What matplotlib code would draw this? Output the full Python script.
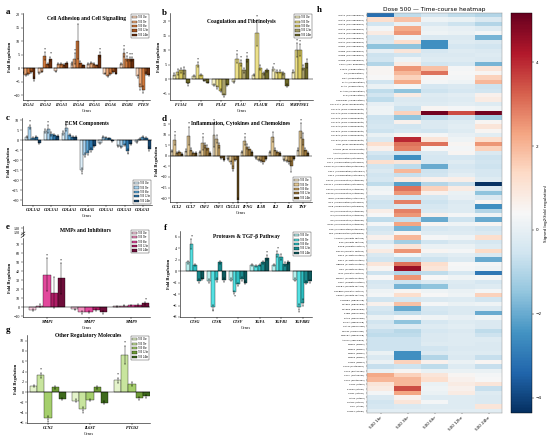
import numpy as np
import matplotlib
matplotlib.use('Agg')
import matplotlib.pyplot as plt

W, H = 550, 441
SERIF = 'Liberation Serif'

series = ['500 1hr', '500 3hr', '500 6hr', '500 12hr', '500 24hr']

# --- a: cell adhesion ---
a_genes = ['ITGA1', 'ITGA2', 'ITGA3', 'ITGA4', 'ITGA5', 'ITGA6', 'ITGB1', 'PTEN']
a_vals = [[-1.8, -2.5, -2.2, -1.5, -4.0], [-1.8, -1.3, 4.5, 1.5, 3.5],
          [-1.2, 1.5, 1.5, 1.2, 2.0], [1.8, 3.5, 10.0, 2.0, 1.0],
          [1.5, 1.8, 1.5, 1.0, 5.0], [-2.0, -2.8, -2.2, -1.5, -2.0],
          [1.5, 5.5, 3.5, 3.3, 3.3], [-3.0, -7.0, -8.0, -2.0, -2.5]]
a_err = [[0.3, 0.4, 0.4, 0.3, 0.6], [0.3, 0.3, 1.5, 0.4, 0.8],
         [0.3, 0.4, 0.3, 0.3, 0.4], [0.5, 2.0, 6.5, 0.5, 0.3],
         [0.3, 0.4, 0.3, 0.3, 1.0], [0.3, 0.4, 0.4, 0.3, 0.3],
         [0.3, 1.5, 1.0, 0.8, 0.8], [0.5, 1.0, 1.2, 0.6, 0.5]]
a_stars = [(1, 2), (1, 4), (3, 1), (3, 2), (4, 4), (6, 1), (6, 2), (6, 3), (6, 4)]

# --- b: coagulation ---
b_genes = ['F13A1', 'F8', 'PLAT', 'PLAU', 'PLAUR', 'PLG', 'SERPINE1']
b_vals = [[1.5, 2.5, 3.0, 3.0, -1.5], [1.0, 5.0, 1.5, -0.5, -1.2],
          [-2.0, -2.8, -4.0, -5.5, -2.0], [-1.0, 7.0, 5.5, 3.0, 7.0],
          [1.5, 16.0, 4.0, 2.0, 3.0], [3.5, 2.5, 2.5, 2.0, -2.2],
          [2.5, 10.0, 10.0, 4.0, 5.5]]
b_err = [[0.5, 1.0, 1.0, 1.2, 0.3], [0.3, 0.8, 0.4, 0.3, 0.3],
         [0.4, 0.5, 0.5, 0.5, 0.4], [0.3, 1.5, 1.0, 0.8, 1.0],
         [0.4, 4.5, 1.0, 0.5, 0.6], [0.6, 0.5, 0.5, 0.5, 0.5],
         [0.5, 2.5, 2.0, 1.0, 1.5]]
b_stars = [(0, 4), (1, 1), (3, 1), (3, 2), (3, 4), (4, 1), (5, 0), (6, 1), (6, 2)]

# --- c: ECM ---
c_genes = ['COL1A2', 'COL3A1', 'COL4A1', 'COL4A5', 'COL5A1', 'COL5A3', 'COL6A3']
c_vals = [[1.5, 6.5, 1.0, 1.5, -1.5], [4.5, 5.5, 3.0, 2.5, 2.0],
          [3.5, 6.0, 2.5, 1.5, 1.5], [-15.0, -7.5, -6.5, -5.0, -3.0],
          [-1.5, 1.5, 1.2, 0.8, -0.5], [-3.0, -3.5, -2.5, -5.5, -2.0],
          [-1.0, 0.5, 1.5, 1.0, -4.5]]
c_err = [[0.4, 1.2, 0.3, 0.4, 0.3], [1.0, 2.0, 0.8, 0.6, 0.5],
         [0.8, 1.5, 0.6, 0.4, 0.4], [1.2, 1.0, 0.8, 0.8, 0.6],
         [0.3, 0.4, 0.3, 0.3, 0.3], [0.5, 0.6, 0.5, 0.8, 0.4],
         [0.3, 0.3, 0.4, 0.3, 0.8]]
c_stars = [(0, 1), (1, 1), (2, 1), (3, 0), (5, 3)]

# --- d: inflammation ---
d_genes = ['CCL2', 'CCL7', 'CSF2', 'CSF3', 'CXCL11', 'IFNG', 'IL1B', 'IL2', 'IL6', 'TNF']
d_vals = [[2.5, 7.5, 1.5, 2.0, 1.0], [2.5, 9.5, 3.0, 1.5, 1.5],
          [2.0, 6.0, 5.0, 4.0, 1.5], [10.0, 8.0, 5.0, -1.0, -2.0],
          [-1.5, -3.0, -6.0, -2.0, -21.0], [2.0, 7.0, 4.5, 3.5, 2.0],
          [-1.0, -2.0, -2.5, -3.0, -1.5], [2.0, 9.0, 3.0, 2.0, 1.5],
          [-2.0, -2.5, -3.0, -5.0, -1.5], [3.0, 12.0, 8.0, 3.0, 1.5]]
d_err = [[0.5, 2.5, 0.4, 0.5, 0.3], [0.6, 4.5, 0.8, 0.4, 0.4],
         [0.5, 3.0, 1.0, 1.0, 0.4], [5.5, 2.0, 1.0, 0.3, 0.5],
         [0.4, 0.6, 1.0, 0.5, 0.8], [0.5, 2.0, 1.0, 0.8, 0.5],
         [0.3, 0.5, 0.5, 0.6, 0.4], [0.5, 2.5, 0.8, 0.5, 0.4],
         [0.4, 0.5, 0.6, 2.5, 0.4], [0.8, 3.5, 3.0, 0.8, 0.4]]
d_stars = [(0, 1), (1, 1), (2, 1), (3, 0), (4, 4), (5, 1), (9, 1)]

# --- e: MMPs ---
e_genes = ['MMP1', 'MMP7', 'MMP9']
e_vals = [[-3.0, 1.5, 36.0, 16.0, 32.0], [-2.5, -6.0, -5.0, -3.0, -6.0],
          [1.0, 1.5, 2.0, 2.5, 4.0]]
e_err = [[1.0, 1.5, 18.0, 17.0, 17.0], [0.8, 1.5, 1.2, 0.8, 1.5],
         [0.5, 0.6, 0.6, 0.8, 1.5]]
e_stars = [(0, 2), (0, 4), (2, 4)]

# --- f: proteases & TGF-beta ---
f_genes = ['CTSG', 'CTSK', 'CTSV', 'TGFA', 'TGFB1', 'TGFBR1']
f_vals = [[1.5, 4.7, 1.0, -1.7, -1.4], [-1.7, -6.3, -1.6, 1.5, -1.6],
          [-1.5, -3.7, -2.3, -1.4, -2.0], [1.0, 0.9, 1.1, 1.5, 2.3],
          [1.0, 3.0, 2.5, 1.2, 1.5], [-1.5, -6.3, -5.5, -2.0, -1.8]]
f_err = [[0.3, 0.8, 0.2, 0.3, 0.2], [0.3, 0.4, 0.3, 0.3, 0.3],
         [0.3, 0.3, 0.3, 0.3, 0.3], [0.2, 0.2, 0.2, 0.3, 0.4],
         [0.2, 0.5, 0.5, 0.3, 0.3], [0.3, 0.5, 0.6, 0.3, 0.3]]
f_stars = [(0, 1), (1, 1), (2, 1), (3, 4), (4, 1), (5, 1)]

# --- g: other ---
g_genes = ['CCN2', 'IL6ST', 'PTGS2']
g_vals = [[1.2, 3.3, -5.0, 0.9, -1.3], [-1.7, -3.2, -1.6, 0.9, -2.1],
          [2.3, 7.2, 1.5, -1.2, -0.8]]
g_err = [[0.2, 0.5, 0.4, 0.3, 0.2], [0.3, 0.4, 0.2, 0.3, 0.3],
         [0.5, 1.8, 0.4, 0.3, 0.3]]
g_stars = [(0, 1), (0, 2), (1, 1), (2, 0), (2, 1)]

# --- h: heatmap ---
hm_cols = ['500 1hr', '500 3hr', '500 6hr', '500 12hr', '500 24hr']
hm_genes = (
    [g + ' (Cell adhesion)' for g in ['ITGA1', 'ITGA2', 'ITGA3', 'ITGA4', 'ITGA5', 'ITGA6',
                                      'ITGAV', 'ITGB1', 'ITGB3', 'ITGB5', 'ITGB6', 'CDH1']]
    + [g + ' (Coagulation)' for g in ['F13A1', 'F3', 'FGA', 'PLAT', 'PLAU', 'PLAUR', 'PLG',
                                      'SERPINE1']]
    + [g + ' (ECM components)' for g in ['COL14A1', 'COL1A1', 'COL1A2', 'COL3A1', 'COL4A1',
                                         'COL4A3', 'COL5A1', 'COL5A2', 'COL5A3', 'VTN',
                                         'TAGLN', 'ACTA2']]
    + [g + ' (Inflammation/cytokines)' for g in ['CCL2', 'CCL7', 'CD40LG', 'CSF2', 'CSF3',
                                                 'CXCL1', 'CXCL11', 'CXCL2', 'CXCL5', 'IFNG',
                                                 'IL10', 'IL1B', 'IL2', 'IL4', 'IL6', 'IL6ST',
                                                 'TNF', 'MIF']]
    + [g + ' (Growth factors)' for g in ['ANGPT1', 'EGF', 'EGFR', 'FGF10', 'FGF2', 'FGF7',
                                         'HBEGF', 'HGF', 'IGF1', 'PDGFA', 'TGFA', 'TGFB1',
                                         'TGFBR3', 'VEGFA']]
    + [g + ' (Signalling)' for g in ['CTNNB1', 'MAPK1', 'MAPK3', 'PTEN', 'RAC1', 'RHOA',
                                     'STAT3', 'WISP1', 'WNT5A', 'ACTC1']]
    + [g + ' (MMPs)' for g in ['MMP1', 'MMP2', 'MMP7', 'MMP9', 'TIMP1']]
    + [g + ' (Proteases)' for g in ['CTSG', 'CTSK', 'CTSL', 'CTSV']]
    + [g + ' (Other)' for g in ['CTGF', 'PTGS2', 'CCN1', 'HAS2', 'SPARC', 'TNC', 'THBS1']]
)
hm_vals = [
    [-3.2, -0.8, -0.5, -0.8, -1.0], [1.2, 1.8, 0.2, 0.1, -0.3], [-0.5, 0.1, -0.3, -0.6, -1.0],
    [0.3, 2.2, 0.1, 0.0, -0.2], [0.8, 2.5, 0.2, 0.1, 0.3], [-0.4, 0.2, -0.3, -0.3, -1.8],
    [-0.3, 1.2, -2.5, -0.2, -0.3], [-1.5, -1.5, -2.5, -0.4, -0.5], [0.0, 1.0, -0.4, -0.2, -0.3],
    [-0.6, -0.5, -0.3, -0.3, -0.2], [-0.5, 0.2, -0.2, -0.2, -0.3], [-1.0, 0.8, -0.5, -0.4, -1.8],
    [0.5, 2.5, 1.8, 0.3, 1.0], [0.5, 2.0, 3.0, 0.4, 0.5], [0.4, 1.5, 0.5, 0.3, 1.5],
    [-0.5, 2.2, 0.3, 0.2, 2.0], [0.1, 0.3, -0.4, -0.3, -0.6], [-0.8, -1.5, -0.6, -0.4, -0.5],
    [-0.5, 0.8, -0.2, -0.1, 0.6], [-0.8, -0.3, -0.3, -0.2, 0.8], [0.0, -0.2, -0.2, -0.1, -0.2],
    [0.2, -0.6, 0.5, 0.3, 0.2], [0.2, 1.5, 5.0, 3.5, 5.0], [-0.6, -1.5, -0.8, -0.5, -1.2],
    [-0.5, 0.6, -0.3, -0.2, 0.5], [-0.4, -0.5, -0.3, -0.1, 1.0], [-0.6, -0.4, -0.5, -0.2, 0.5],
    [0.1, 0.5, 0.3, 0.0, -0.1], [-0.3, 4.0, 1.0, 0.2, 1.2], [1.2, 3.0, 3.0, 0.5, 2.5],
    [0.6, 2.8, 0.4, 0.3, 1.5], [-0.4, -0.5, -0.3, 0.5, -0.3], [-0.7, -2.5, -0.4, -0.4, -0.6],
    [1.2, 1.0, -0.4, -0.2, -0.5], [-0.5, -0.8, -2.0, -0.4, -0.6], [-0.3, 2.0, -0.6, -0.3, -0.4],
    [-0.5, -0.7, -0.5, -0.1, -0.4], [-0.4, 0.8, 0.6, 0.7, -0.2], [-0.8, -2.2, -1.0, -0.7, -4.3],
    [0.2, 3.0, 1.5, 0.8, -0.3], [0.3, 2.5, 0.6, 0.1, -1.5], [-0.3, -0.5, -0.4, 0.0, -0.3],
    [-0.6, 2.8, -0.6, -0.3, 0.5], [-0.5, -0.3, -0.4, -0.2, -2.5], [0.7, 2.8, -0.3, -0.2, -1.0],
    [0.4, 2.5, 0.6, 0.3, 0.2], [-0.8, -0.7, -2.0, -0.6, -2.0], [0.3, 2.3, 0.5, 0.2, 0.5],
    [-0.5, -1.8, -0.4, -0.3, -0.5], [-0.3, 0.5, -0.2, -0.2, -0.3], [0.6, 2.0, 0.3, 0.2, 1.2],
    [-0.4, -1.2, -0.5, -0.3, -0.4], [0.2, 1.0, 0.1, 0.1, -0.2], [0.8, 2.5, 0.5, 0.3, 1.3],
    [-0.3, 0.3, -0.2, -0.1, -0.3], [-0.5, -0.8, -0.6, -0.3, -2.0], [1.0, 3.0, 1.2, 0.4, 0.3],
    [0.5, 4.5, 1.0, 0.3, 0.2], [-0.6, -1.0, -0.8, -0.4, -3.0], [0.4, 2.5, 0.4, 0.2, 0.3],
    [-0.4, -0.6, -0.3, -0.2, -0.4], [-0.3, -1.8, -1.5, -0.3, -0.2], [0.2, 0.5, 0.2, 0.1, 0.3],
    [0.3, 1.2, 0.4, 0.2, 1.5], [-0.5, -0.4, -0.3, -0.2, -0.5], [0.6, 1.8, 0.3, 0.1, 0.2],
    [-0.4, -2.0, -0.4, -0.3, -0.3], [-0.6, -0.8, -0.5, -0.3, -2.0], [0.1, 0.4, 0.2, 0.0, 0.2],
    [-0.5, -1.5, -0.4, -0.2, -0.3], [-0.3, -0.2, -0.2, -0.1, -0.3], [-0.7, -0.9, -0.4, -0.3, -0.8],
    [-0.8, -0.8, -0.3, -0.2, -0.6], [-0.6, -0.6, -0.3, -0.2, -0.2], [-0.6, -0.6, -0.2, -0.2, -0.3],
    [-0.6, -0.6, -0.5, -0.3, -0.3], [0.1, -2.5, -0.3, -0.2, -0.2], [-0.3, -2.5, -1.0, -0.3, -0.7],
    [0.1, 1.5, 0.6, 0.1, 0.5], [-0.7, -0.6, -0.8, -0.2, -0.7], [0.1, 0.5, 0.1, 0.1, 0.1],
    [2.2, 1.5, 1.0, 0.5, 0.3], [2.0, 2.0, 1.2, 0.6, 0.4], [1.0, 2.0, 0.1, 0.8, 1.0],
    [0.8, 3.5, 0.2, 0.6, -0.7], [0.3, 2.3, 0.1, 0.8, -0.2], [-0.3, 0.6, -0.2, -0.2, -0.3],
    [-0.5, 1.0, 0.3, -0.2, -0.3], [-0.4, -0.3, -0.2, -0.2, 1.0], [-0.1, -0.1, -0.1, -0.1, -0.1],
]
hm_vmin, hm_vmax = -4.36, 5.17

a_colors = ['#FAD7BE', '#EBA878', '#D27A3C', '#A4531F', '#6A2F0E']
b_colors = ['#F6F1C7', '#ECE08A', '#D8C95E', '#A8A06A', '#6E6A2A']
c_colors = ['#DDEFFA', '#A9D3F0', '#5FA9DA', '#2E78AE', '#16466E']
d_colors = ['#F3E6CB', '#E2C895', '#C8A160', '#9A763A', '#5E4519']
e_colors = ['#F9CDE0', '#F28DBE', '#E2489C', '#B01C66', '#6E0D3A']
f_colors = ['#B8F0EE', '#55E1E3', '#2CBFC2', '#1A8A8E', '#0E5A5E']
g_colors = ['#E4F3CB', '#C8E59E', '#A5CF6C', '#6F9C37', '#3E6A1D']


def px_axes(fig, left, top, right, bottom):
    return fig.add_axes([left / W, 1 - bottom / H, (right - left) / W, (bottom - top) / H])


def style_axis(ax, yticks):
    for s in ['top', 'right']:
        ax.spines[s].set_visible(False)
    for s in ['left', 'bottom']:
        ax.spines[s].set_linewidth(0.4)
    ax.set_yticks(yticks)
    ax.tick_params(labelsize=3, length=1.5, width=0.3, pad=0.8)
    for lab in ax.get_yticklabels():
        lab.set_family(SERIF)


def bar_panel(ax, genes, vals, errs, colors, stars, title, ylim, xlim, yticks,
              legend_loc, title_y=0.97):
    vals = np.array(vals)
    errs = np.array(errs)
    x = np.arange(len(genes))
    w = 0.17
    for k in range(5):
        ax.bar(x + (k - 2) * w, vals[:, k], w, yerr=errs[:, k], color=colors[k],
               edgecolor='black', linewidth=0.25, label=series[k],
               error_kw=dict(elinewidth=0.3, capsize=0.7, capthick=0.3, ecolor='black'))
    span = ylim[1] - ylim[0]
    for gi, k in stars:
        v, e = vals[gi, k], errs[gi, k]
        y = v + e + 0.01 * span if v >= 0 else v - e - 0.05 * span
        ax.text(gi + (k - 2) * w, y, '*', fontsize=3, ha='center', va='bottom',
                family=SERIF)
    ax.axhline(0, color='black', linewidth=0.35)
    ax.set_xlim(*xlim)
    ax.set_ylim(*ylim)
    style_axis(ax, yticks)
    ax.set_xticks(x)
    ax.set_xticklabels(genes, fontsize=3, fontstyle='italic', fontweight='bold',
                       family=SERIF)
    ax.set_xlabel('Genes', fontsize=3, family=SERIF, labelpad=1)
    ax.set_ylabel('Fold Regulation', fontsize=3.2, fontweight='bold', family=SERIF,
                  labelpad=1)
    ax.text(0.5, title_y, title, transform=ax.transAxes, ha='center', va='top',
            fontsize=4, fontweight='bold', family=SERIF)
    leg = ax.legend(loc=legend_loc, fontsize=2, frameon=True, fancybox=False,
                    edgecolor='black', handlelength=1.6, handleheight=0.8,
                    borderpad=0.3, labelspacing=0.15, handletextpad=0.4,
                    prop={'family': SERIF, 'size': 2})
    leg.get_frame().set_linewidth(0.3)


def panel_letter(fig, x, y, s):
    fig.text(x / W, 1 - y / H, s, fontsize=6.5, fontweight='bold', family=SERIF,
             ha='left', va='center')


def main():
    fig = plt.figure(figsize=(5.5, 4.41), dpi=100)

    ax = px_axes(fig, 23, 13, 150, 100)
    bar_panel(ax, a_genes, a_vals, a_err, a_colors, a_stars,
              'Cell Adhesion and Cell Signalling', (-11.8, 20.4), (-0.33, 7.42),
              [-10, -5, 0, 5, 10, 15, 20], 'upper right')

    ax = px_axes(fig, 170, 13, 313, 100)
    bar_panel(ax, b_genes, b_vals, b_err, b_colors, b_stars,
              'Coagulation and Fibrinolysis', (-7.2, 22.8), (-0.56, 6.66),
              [-5, 0, 5, 10, 15, 20], 'upper right', title_y=0.93)

    ax = px_axes(fig, 22, 118, 152, 205)
    bar_panel(ax, c_genes, c_vals, c_err, c_colors, c_stars,
              'ECM Components', (-32.5, 11), (-0.6, 6.5),
              [-30, -25, -20, -15, -10, -5, 0, 5, 10], 'lower right')

    ax = px_axes(fig, 170, 119, 312, 202)
    bar_panel(ax, d_genes, d_vals, d_err, d_colors, d_stars,
              'Inflammation, Cytokines and Chemokines', (-21.9, 17.6), (-0.5, 9.64),
              [-20, -15, -10, -5, 0, 5, 10, 15], 'lower right')

    # e: broken y axis
    ax = px_axes(fig, 23, 238, 150, 317)
    bar_panel(ax, e_genes, e_vals, e_err, e_colors, e_stars,
              '', (-11, 76.7), (-0.57, 2.45),
              [-10, 0, 10, 20, 30, 40, 50, 60, 70], 'upper right', title_y=1.1)
    ax.legend_.set_bbox_to_anchor((1.0, 1.12))
    axu = px_axes(fig, 23, 226, 150, 236)
    axu.set_xlim(-0.57, 2.45)
    axu.set_ylim(114, 134)
    style_axis(axu, [120, 130])
    axu.spines['bottom'].set_visible(False)
    axu.set_xticks([])
    axu.patch.set_alpha(0)
    for yy in (0.0, 0.25):
        axu.plot([-0.015, 0.015], [yy - 0.15, yy + 0.15], transform=axu.transAxes,
                 color='black', linewidth=0.4, clip_on=False)
    fig.text(86 / W, 1 - 230 / H, 'MMPs and Inhibitors', ha='center', va='center',
             fontsize=4, fontweight='bold', family=SERIF)

    ax = px_axes(fig, 180, 231, 312, 317)
    bar_panel(ax, f_genes, f_vals, f_err, f_colors, f_stars,
              'Proteases & TGF-\u03b2 Pathway', (-8, 6.96), (-0.7, 5.44),
              [-8, -6, -4, -2, 0, 2, 4, 6], 'upper right', title_y=0.96)

    ax = px_axes(fig, 27, 335, 150, 423)
    bar_panel(ax, g_genes, g_vals, g_err, g_colors, g_stars,
              'Other Regulatory Molecules', (-6, 11.1), (-0.5, 2.43),
              [-6, -4, -2, 0, 2, 4, 6, 8, 10], 'upper right', title_y=1.02)

    # h: heatmap
    axh = px_axes(fig, 367, 13, 502, 413)
    im = axh.imshow(np.array(hm_vals), cmap='RdBu_r', vmin=hm_vmin, vmax=hm_vmax,
                    aspect='auto', interpolation='nearest')
    axh.set_yticks(np.arange(len(hm_genes)))
    axh.set_yticklabels(hm_genes, fontsize=1.7)
    axh.set_xticks(np.arange(len(hm_cols)))
    axh.set_xticklabels(hm_cols, fontsize=3, rotation=45, ha='right',
                        rotation_mode='anchor')
    axh.tick_params(length=1, width=0.3, pad=1)
    for s in axh.spines.values():
        s.set_linewidth(0.3)
        s.set_color('#888888')
    axh.set_title('Dose 500 \u2014 Time-course heatmap', fontsize=4.2, pad=1.5)

    cax = px_axes(fig, 511, 13, 532, 413)
    cb = fig.colorbar(im, cax=cax)
    cb.set_ticks([-4, -2, 0, 2, 4])
    cb.ax.tick_params(labelsize=3, length=1.5, width=0.3, pad=1)
    cb.outline.set_linewidth(0.3)
    cb.set_label('Signed log2(fold regulation)', fontsize=3, labelpad=2)

    panel_letter(fig, 6, 12, 'a')
    panel_letter(fig, 162, 13, 'b')
    panel_letter(fig, 6, 118, 'c')
    panel_letter(fig, 162, 119, 'd')
    panel_letter(fig, 6, 227, 'e')
    panel_letter(fig, 164, 228, 'f')
    panel_letter(fig, 6, 330, 'g')
    panel_letter(fig, 317, 10, 'h')

    fig.savefig('out.png', dpi=100)
    plt.close(fig)


if __name__ == '__main__':
    main()
